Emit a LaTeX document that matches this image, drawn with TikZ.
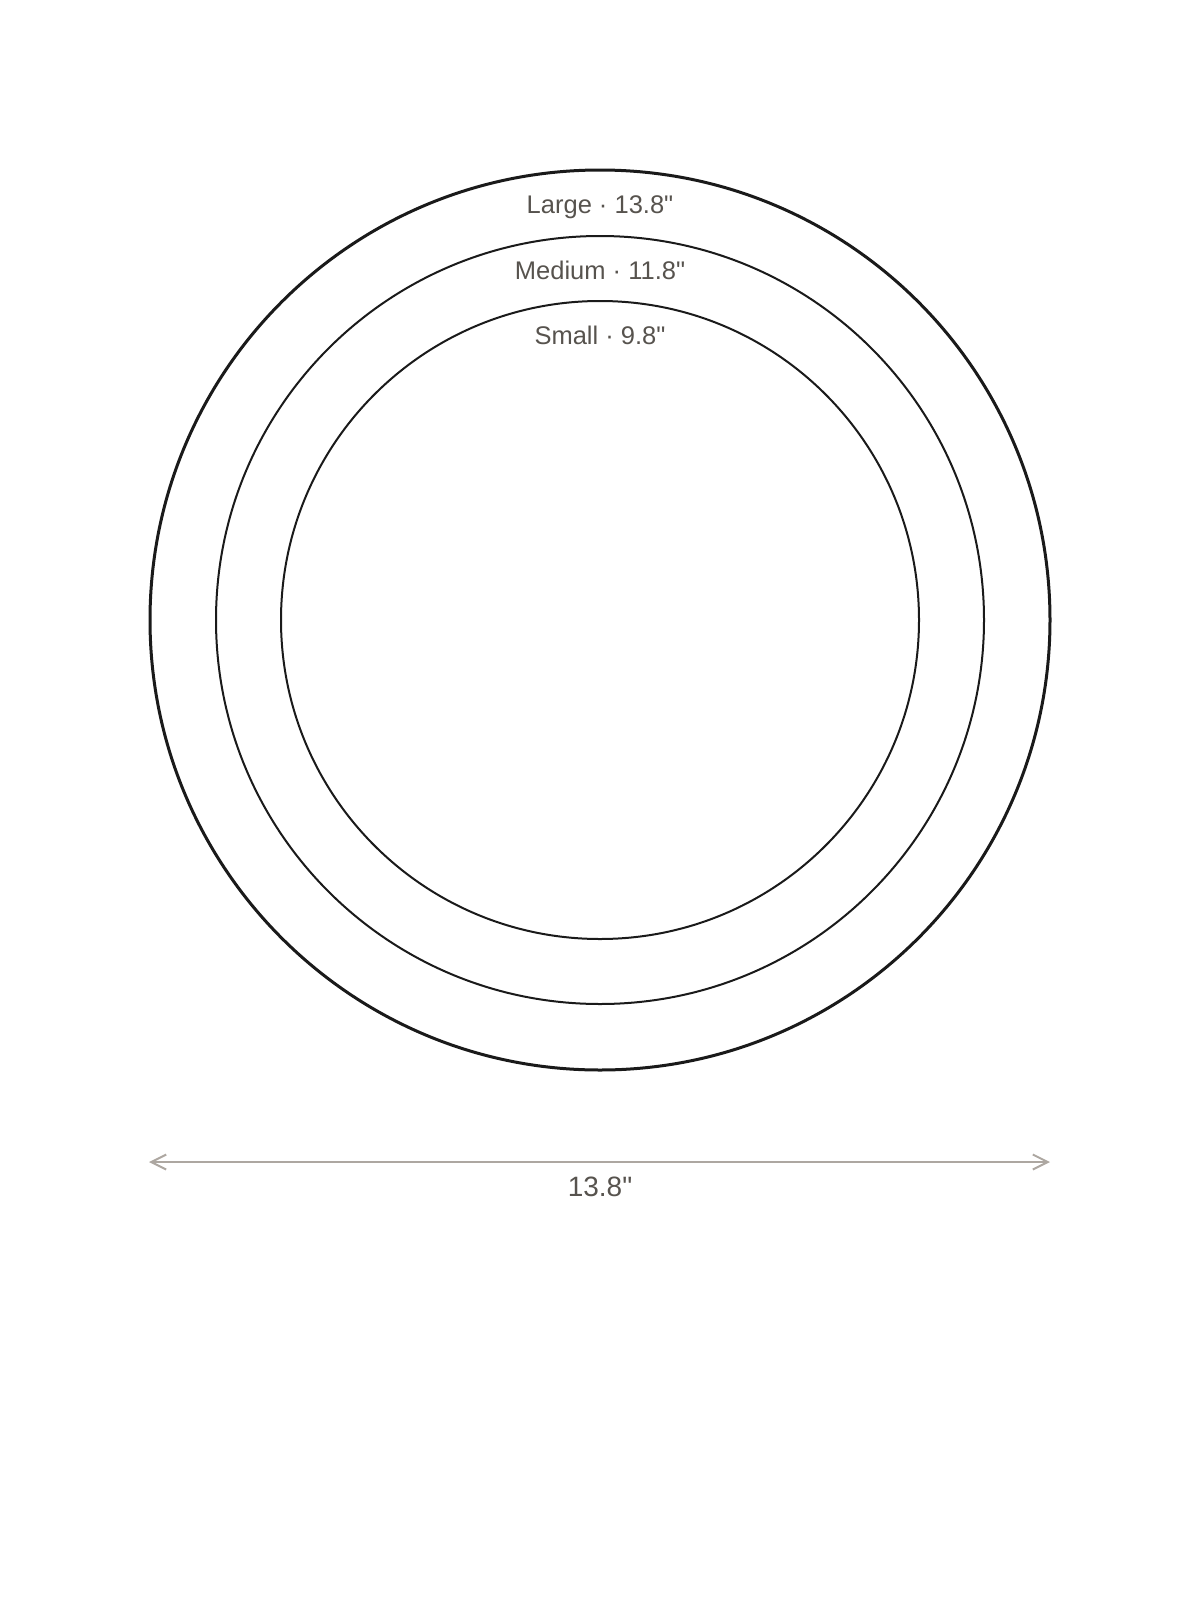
\documentclass[tikz,border=0pt]{standalone}
\usepackage{fontspec}
\newfontfamily\platefont{Liberation Sans}
\usetikzlibrary{arrows.meta}
\usetikzlibrary{positioning}
\definecolor{platestroke}{HTML}{1A1A1A}
\definecolor{labelgrey}{HTML}{57534E}
\definecolor{dimgrey}{HTML}{ADA7A1}

\begin{document}
\begin{tikzpicture}[x=1pt,y=-1pt,
    plate/.style={circle,draw=platestroke,inner sep=0pt},
    sizelabel/.style={text=labelgrey,anchor=base,font=\platefont\fontsize{25.5}{30}\selectfont},
    dimline/.style={draw=dimgrey,line width=2pt,{Straight Barb[length=15pt,width=15pt]}-{Straight Barb[length=15pt,width=15pt]}}]
    \useasboundingbox (0,0) rectangle (1200,1600);
    % plates
    \node [plate,line width=3pt,minimum size=900pt] (large) at (600,620) {};
    \node [plate,line width=2pt,minimum size=768pt] (medium) at (600,620) {};
    \node [plate,line width=2pt,minimum size=638pt] (small) at (600,620) {};
    \node [sizelabel] (largelbl) at ([yshift=-45pt]large.north) {Large · 13.8"};
    \node [sizelabel] (mediumlbl) at ([yshift=-44pt]medium.north) {Medium · 11.8"};
    \node [sizelabel] (smalllbl) at ([yshift=-44pt]small.north) {Small · 9.8"};
    % width
    \coordinate (dimleft) at (149,1162);
    \coordinate (dimright) at (1050,1162);
    \draw [dimline] (dimleft) -- (dimright);
    \node [sizelabel,font=\platefont\fontsize{28}{33}\selectfont] (dimlbl) at (600,1196) {13.8"};
\end{tikzpicture}
\end{document}
